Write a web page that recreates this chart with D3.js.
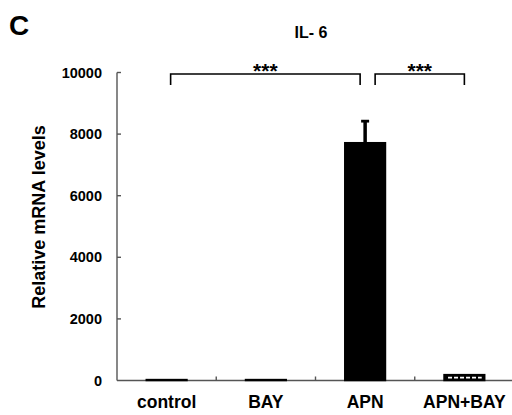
<!DOCTYPE html>
<html>
<head>
<meta charset="utf-8">
<script src="https://cdn.jsdelivr.net/npm/d3@7"></script>
<style>
  html, body { margin: 0; padding: 0; background: #fff; }
  text { font-family: "Liberation Sans", Arial, sans-serif; font-weight: bold; fill: #000; }
</style>
</head>
<body>
<div id="chart"></div>
<script>
// IL-6 relative mRNA levels bar chart

const categories = ["control", "BAY", "APN", "APN+BAY"];
const values = [30, 30, 7720, 190];
const errors = [0, 0, 700, 0];
const yTicks = [0, 2000, 4000, 6000, 8000, 10000];
const comparisons = [["control", "APN"], ["APN", "APN+BAY"]];
const compLabels = ["***", "***"];
const compLevel = [9950, 9950];

const width = 512;
const height = 415;

const svg = d3.select("#chart")
  .append("svg")
  .attr("width", width)
  .attr("height", height);

const x = d3.scaleBand().domain(categories).range([117, 514]).padding(0);
const y = d3.scaleLinear().domain([0, 10000]).range([380.5, 72.5]);

const barW = x.bandwidth() * 0.41;
const cx = d => x(d) + x.bandwidth() / 2;

// y axis line + inward ticks
svg.append("line")
  .attr("x1", 117).attr("x2", 117)
  .attr("y1", y(10000)).attr("y2", y(0))
  .attr("stroke", "#555").attr("stroke-width", 1.4);

svg.selectAll(".ytick")
  .data(yTicks.filter(d => d > 0))
  .enter().append("line")
  .attr("x1", 117).attr("x2", 121)
  .attr("y1", d => y(d)).attr("y2", d => y(d))
  .attr("stroke", "#555").attr("stroke-width", 1.4);

svg.selectAll(".ylab")
  .data(yTicks)
  .enter().append("text")
  .attr("x", 102)
  .attr("y", d => y(d) + 5)
  .attr("text-anchor", "end")
  .style("font-size", "14.5px")
  .text(d => d);

// x axis line + ticks between categories
svg.append("line")
  .attr("x1", 117).attr("x2", 514)
  .attr("y1", y(0)).attr("y2", y(0))
  .attr("stroke", "#555").attr("stroke-width", 1.4);

svg.selectAll(".xtick")
  .data(categories.slice(1))
  .enter().append("line")
  .attr("x1", d => x(d)).attr("x2", d => x(d))
  .attr("y1", y(0)).attr("y2", y(0) - 4)
  .attr("stroke", "#555").attr("stroke-width", 1.4);

svg.selectAll(".xlab")
  .data(categories)
  .enter().append("text")
  .attr("x", d => cx(d))
  .attr("y", 408)
  .attr("text-anchor", "middle")
  .style("font-size", "17.5px")
  .text(d => d);

// bars
const bars = categories.map((c, i) => ({ c, v: values[i], e: errors[i], i }));

svg.selectAll(".bar")
  .data(bars)
  .enter().append("rect")
  .attr("x", d => cx(d.c) - barW / 2)
  .attr("y", d => y(d.v))
  .attr("width", barW)
  .attr("height", d => y(0) - y(d.v))
  .attr("fill", "#000")
  .attr("stroke", "#000")
  .attr("stroke-width", 1.5);

// hatch dashes on the APN+BAY bar
svg.selectAll(".hatch")
  .data(bars.filter(d => d.c === "APN+BAY"))
  .enter().append("line")
  .attr("x1", d => cx(d.c) - barW / 2 + 4)
  .attr("x2", d => cx(d.c) + barW / 2 - 3)
  .attr("y1", d => (y(d.v) + y(0)) / 2)
  .attr("y2", d => (y(d.v) + y(0)) / 2)
  .attr("stroke", "#fff")
  .attr("stroke-width", 1.8)
  .attr("stroke-dasharray", "4,2");

// error bars
const errBars = bars.filter(d => d.e > 0);
svg.selectAll(".err")
  .data(errBars)
  .enter().append("line")
  .attr("x1", d => cx(d.c)).attr("x2", d => cx(d.c))
  .attr("y1", d => y(d.v)).attr("y2", d => y(d.v + d.e))
  .attr("stroke", "#000").attr("stroke-width", 3.5);

svg.selectAll(".cap")
  .data(errBars)
  .enter().append("line")
  .attr("x1", d => cx(d.c) - 4).attr("x2", d => cx(d.c) + 4)
  .attr("y1", d => y(d.v + d.e)).attr("y2", d => y(d.v + d.e))
  .attr("stroke", "#000").attr("stroke-width", 2.8);

// significance brackets
const pads = [[4, -5], [10, 0]];
comparisons.forEach((pair, i) => {
  const x1 = cx(pair[0]) + pads[i][0];
  const x2 = cx(pair[1]) + pads[i][1];
  const yt = y(compLevel[i]);
  svg.append("path")
    .attr("d", `M${x1},${yt + 11}V${yt}H${x2}V${yt + 11}`)
    .attr("fill", "none")
    .attr("stroke", "#000")
    .attr("stroke-width", 1.6);
  svg.append("text")
    .attr("x", (x1 + x2) / 2)
    .attr("y", yt + 4)
    .attr("text-anchor", "middle")
    .style("font-size", "21px")
    .text(compLabels[i]);
});

// titles
svg.append("text")
  .attr("x", 311).attr("y", 38)
  .attr("text-anchor", "middle")
  .style("font-size", "16px")
  .text("IL- 6");

svg.append("text")
  .attr("x", 9).attr("y", 35)
  .style("font-size", "28px")
  .text("C");

svg.append("text")
  .attr("transform", "translate(45,217) rotate(-90)")
  .attr("text-anchor", "middle")
  .style("font-size", "18px")
  .text("Relative mRNA levels");
</script>
</body>
</html>
